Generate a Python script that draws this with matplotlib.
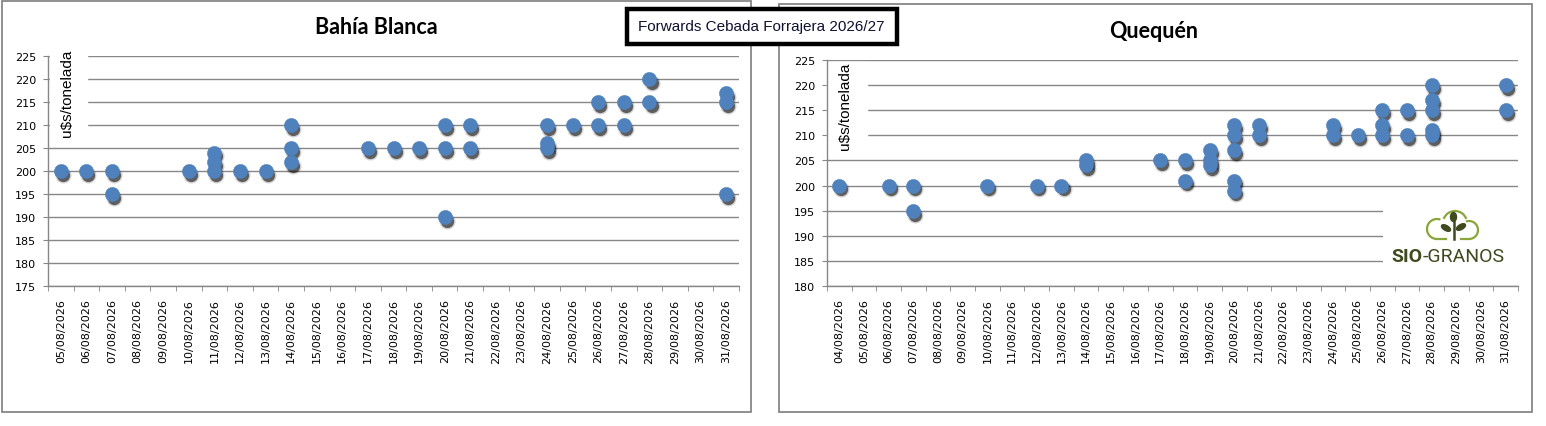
import matplotlib
matplotlib.use('Agg')
import matplotlib.pyplot as plt
from matplotlib.patches import Rectangle, Arc, Ellipse
from matplotlib.transforms import Affine2D, offset_copy
from matplotlib.lines import Line2D

W, H = 1546, 427

# categorias (eje x) de cada plaza
fechas_bb = ['%02d/08/2026' % d for d in range(5, 32)]
fechas_qq = ['%02d/08/2026' % d for d in range(4, 32)]

# Bahia Blanca: dia de cada punto y precio (u$s/t)
bb_dia = ['05', '06', '07', '07', '10', '11', '11', '11', '12', '13', '14', '14', '14',
          '17', '18', '19', '20', '20', '20', '21', '21', '24', '24', '24', '25',
          '26', '26', '27', '27', '28', '28', '31', '31', '31']
bb_valor = [200, 200, 200, 195, 200, 200, 202, 204, 200, 200, 210, 205, 202,
            205, 205, 205, 210, 205, 190, 210, 205, 210, 206, 205, 210,
            215, 210, 215, 210, 220, 215, 217, 215, 195]

# Quequen
qq_dia = ['04', '06', '07', '07', '10', '12', '13', '14', '14', '17', '18', '18',
          '19', '19', '19', '20', '20', '20', '20', '20', '21', '21', '24', '24',
          '25', '26', '26', '26', '27', '27', '28', '28', '28', '28', '28', '31', '31']
qq_valor = [200, 200, 200, 195, 200, 200, 200, 205, 204, 205, 205, 201,
            207, 205, 204, 212, 210, 207, 201, 199, 212, 210, 212, 210,
            210, 215, 212, 210, 215, 210, 220, 217, 215, 211, 210, 220, 215]

GRIS = '#878787'
AZUL = '#4f81bd'

fig = plt.figure(figsize=(W / 100, H / 100), dpi=100)
pix = Affine2D().scale(1.0 / W, -1.0 / H).translate(0, 1) + fig.transFigure


def ax_px(x0, y0, x1, y1):
    return fig.add_axes([x0 / W, 1 - y1 / H, (x1 - x0) / W, (y1 - y0) / H])


# marcos de los dos graficos
fig.patches.append(Rectangle((2, 2), 749, 411, transform=pix, fill=False,
                             ec=GRIS, lw=1.3))
fig.patches.append(Rectangle((779, 5), 753, 408, transform=pix, fill=False,
                             ec=GRIS, lw=1.3))


def grafico(ax, fechas, dias, valores, ymin, titulo_y, caja):
    n = len(fechas)
    dia_idx = [d[:2] for d in fechas]
    xs = [dia_idx.index(d) for d in dias]
    ax.set_xlim(-0.5, n - 0.5)
    ax.set_ylim(ymin, 225)
    ax.set_yticks(range(ymin, 226, 5))
    ax.set_xticks(range(n))
    ax.set_xticklabels(fechas, rotation=90, fontsize=8, family='DejaVu Sans')
    ax.set_xticks([i - 0.5 for i in range(n + 1)], minor=True)
    ax.tick_params(axis='x', which='major', length=0, pad=9)
    ax.tick_params(axis='x', which='minor', length=3.8, color=GRIS, direction='out')
    ax.tick_params(axis='y', length=3.6, color=GRIS, pad=5, labelsize=8)
    for s in ['top', 'right']:
        ax.spines[s].set_visible(False)
    for s in ['left', 'bottom']:
        ax.spines[s].set_color(GRIS)
        ax.spines[s].set_linewidth(1.0)
    ax.yaxis.grid(True, color=GRIS, lw=1.0)
    ax.set_axisbelow(True)
    # caja blanca del titulo del eje
    ax.add_patch(Rectangle((caja[0], caja[1]), caja[2], caja[3],
                           transform=ax.transAxes, color='white', zorder=1.5,
                           clip_on=False))
    ax.text(caja[0] + caja[2] * 0.45, caja[1] + caja[3], titulo_y,
            rotation=90, ha='center', va='top', fontsize=11,
            family='Liberation Sans', transform=ax.transAxes, zorder=2)
    # sombra
    sh1 = offset_copy(ax.transData, fig=fig, x=1.5, y=-2.8, units='points')
    ax.plot(xs, valores, 'o', ms=11.5, color='black', alpha=0.18, mec='none',
            transform=sh1, zorder=3, clip_on=False)
    ax.plot(xs, valores, 'o', ms=9.5, color='black', alpha=0.55, mec='none',
            transform=sh1, zorder=3, clip_on=False)
    ax.plot(xs, valores, 'o', ms=10.3, color=AZUL, mec=AZUL, mew=0.3,
            zorder=4, clip_on=False)


ax1 = ax_px(48, 57, 739, 287)
grafico(ax1, fechas_bb, bb_dia, bb_valor, 175, 'u$s/tonelada',
        (0.003, 0.625, 0.053, 0.405))
ax2 = ax_px(827, 61, 1518, 287)
grafico(ax2, fechas_qq, qq_dia, qq_valor, 180, 'u$s/tonelada',
        (0.0, 0.575, 0.058, 0.416))

fig.text(376 / W, 1 - 27 / H, 'Bahía Blanca', ha='center', va='center',
         fontsize=15.5, fontweight='bold', family='Lato')
fig.text(1154 / W, 1 - 31 / H, 'Quequén', ha='center', va='center',
         fontsize=15.5, fontweight='bold', family='Lato')

# titulo general en recuadro
fig.patches.append(Rectangle((627, 10), 270, 35, transform=pix, fc='white',
                             ec='black', lw=3.2, zorder=5))
fig.text(761 / W, 1 - 27.5 / H, 'Forwards Cebada Forrajera 2026/27',
         ha='center', va='center', fontsize=11, family='Liberation Sans',
         color='#101030', zorder=6)

# logo SIO-GRANOS
fig.patches.append(Rectangle((1383, 200), 135, 80, transform=pix, fc='white',
                             ec='none', zorder=1))
verde = '#8aa53a'
oscuro = '#3f4a1e'
for cx, cy, r, t1, t2 in [(1437, 230, 10, 90, 290), (1455, 224, 12, 200, 340),
                          (1469, 231, 9, 250, 450)]:
    fig.patches.append(Arc((cx, cy), 2 * r, 2 * r, theta1=t1, theta2=t2,
                           transform=pix, color=verde, lw=1.6, zorder=2))
fig.lines.append(Line2D([1437, 1446], [240, 240], transform=pix, color=verde,
                        lw=1.6, zorder=2))
fig.lines.append(Line2D([1461, 1469], [240, 240], transform=pix, color=verde,
                        lw=1.6, zorder=2))
fig.lines.append(Line2D([1453.5, 1453.5], [222, 240], transform=pix,
                        color=oscuro, lw=1.8, zorder=2))
fig.patches.append(Ellipse((1453.5, 218), 6, 9, transform=pix, color=oscuro, zorder=2))
fig.patches.append(Ellipse((1446, 229), 10, 5, angle=30, transform=pix,
                           color=oscuro, zorder=2))
fig.patches.append(Ellipse((1461, 228), 10, 5, angle=-30, transform=pix,
                           color=oscuro, zorder=2))
fig.text(1423 / W, 1 - 262 / H, 'SIO', ha='right', va='baseline', fontsize=14,
         fontweight='bold', family='Roboto', color=oscuro)
fig.text(1423 / W, 1 - 262 / H, '-GRANOS', ha='left', va='baseline', fontsize=14,
         family='Roboto', color=oscuro)

fig.savefig('out.png', dpi=100, facecolor='white')
